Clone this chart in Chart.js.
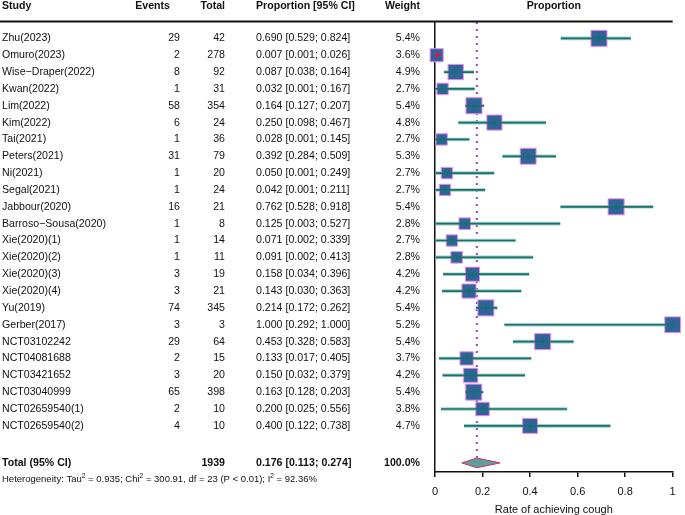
<!DOCTYPE html>
<html><head><meta charset="utf-8">
<script src="https://cdn.jsdelivr.net/npm/chart.js@4"></script>
<style>html,body{margin:0;padding:0;background:#fff}canvas{display:block}</style>
</head><body>
<canvas id="c" width="685" height="515"></canvas>
<script>
// ---------- data ----------
const studies = ['Zhu(2023)','Omuro(2023)','Wise\u2212Draper(2022)','Kwan(2022)','Lim(2022)','Kim(2022)','Tai(2021)','Peters(2021)','Ni(2021)','Segal(2021)','Jabbour(2020)','Barroso\u2212Sousa(2020)','Xie(2020)(1)','Xie(2020)(2)','Xie(2020)(3)','Xie(2020)(4)','Yu(2019)','Gerber(2017)','NCT03102242','NCT04081688','NCT03421652','NCT03040999','NCT02659540(1)','NCT02659540(2)'];
const events = [29,2,8,1,58,6,1,31,1,1,16,1,1,1,3,3,74,3,29,2,3,65,2,4];
const totals = [42,278,92,31,354,24,36,79,20,24,21,8,14,11,19,21,345,3,64,15,20,398,10,10];
const proportions = [0.690,0.007,0.087,0.032,0.164,0.250,0.028,0.392,0.050,0.042,0.762,0.125,0.071,0.091,0.158,0.143,0.214,1.000,0.453,0.133,0.150,0.163,0.200,0.400];
const ciLower = [0.529,0.001,0.038,0.001,0.127,0.098,0.001,0.284,0.001,0.001,0.528,0.003,0.002,0.002,0.034,0.030,0.172,0.292,0.328,0.017,0.032,0.128,0.025,0.122];
const ciUpper = [0.824,0.026,0.164,0.167,0.207,0.467,0.145,0.509,0.249,0.211,0.918,0.527,0.339,0.413,0.396,0.363,0.262,1.000,0.583,0.405,0.379,0.203,0.556,0.738];
const weights = [5.4,3.6,4.9,2.7,5.4,4.8,2.7,5.3,2.7,2.7,5.4,2.8,2.7,2.8,4.2,4.2,5.4,5.2,5.4,3.7,4.2,5.4,3.8,4.7];
const pooled = [0.176, 0.113, 0.274]; // estimate, lower, upper
const totalN = 1939;
const xTicks = [0, 0.2, 0.4, 0.6, 0.8, 1];
const headers = ['Study','Events','Total','Proportion [95% CI]','Weight','Proportion'];
const totalLabel = 'Total (95% CI)';
const hetParts = [['Heterogeneity: Tau',0],['2',1],[' = 0.935; Chi',0],['2',1],[' = 300.91, df = 23 (P < 0.01); I',0],['2',1],[' = 92.36%',0]];
const xTitle = 'Rate of achieving cough';

// ---------- layout / style ----------
const ROW_HEADER = -1.9, ROW_TOTAL = 25.2, ROW_HET = 26.2;
const Y_MIN = -0.97, Y_MAX = 25.74;
const FONT = '"Liberation Sans", Arial, Helvetica, sans-serif';
const BOX_FILL = '#2f6399', BOX_EDGE = '#ee88ee';
const CI_CORE = '#17706b', CI_HALO = 'rgba(150,200,196,0.9)', CI_IN = '#ee1144';
const fmt3 = v => v.toFixed(3);
const boxSide = w => 6.9 * Math.sqrt(w);
function ciInside(chart, i) {
  const xs = chart.scales.x;
  if (!xs) return false;
  return (xs.getPixelForValue(ciUpper[i]) - xs.getPixelForValue(ciLower[i])) < boxSide(weights[i]);
}

const datasets = [];
// reference line for pooled estimate
datasets.push({
  data: [{x: pooled[0], y: Y_MIN}, {x: pooled[0], y: ROW_TOTAL - 0.3}],
  borderColor: '#9a3fc8', borderWidth: 2, borderDash: [2, 5], pointRadius: 0, order: 10
});
// confidence intervals (halo under boxes, core above)
studies.forEach((s, i) => {
  const pts = [{x: ciLower[i], y: i}, {x: ciUpper[i], y: i}];
  datasets.push({data: pts, pointRadius: 0, borderWidth: 3.6,
    borderColor: ctx => ciInside(ctx.chart, i) ? 'rgba(0,0,0,0)' : CI_HALO, order: 9});
  datasets.push({data: pts, pointRadius: 0, borderWidth: 1.7,
    borderColor: ctx => ciInside(ctx.chart, i) ? CI_IN : CI_CORE, order: 5});
});
// study boxes
datasets.push({
  data: proportions.map((p, i) => ({x: p, y: i})),
  showLine: false, pointStyle: 'rect',
  pointRadius: ctx => boxSide(weights[ctx.dataIndex]) / (2 * Math.SQRT1_2),
  pointBackgroundColor: BOX_FILL, pointBorderColor: BOX_EDGE, pointBorderWidth: 1,
  clip: false, order: 8
});
// estimate tick marks
datasets.push({
  data: proportions.map((p, i) => ({x: p, y: i})),
  showLine: false, pointStyle: 'line', pointRotation: 90, pointRadius: 3.2,
  pointBorderWidth: 1.6,
  pointBorderColor: ctx => ciInside(ctx.chart, ctx.dataIndex) ? CI_IN : CI_CORE,
  clip: false, order: 4
});
// pooled diamond
datasets.push({
  data: [{x: pooled[1], y: ROW_TOTAL}, {x: pooled[0], y: ROW_TOTAL - 0.29}, {x: pooled[2], y: ROW_TOTAL},
         {x: pooled[0], y: ROW_TOTAL + 0.29}, {x: pooled[1], y: ROW_TOTAL}],
  fill: 'shape', backgroundColor: '#5f9f9b', borderColor: '#c8336b', borderWidth: 1,
  pointRadius: 0, order: 2
});

function drawSup(ctx, parts, x, y, size) {
  let cx = x;
  parts.forEach(([t, sup]) => {
    ctx.font = (sup ? size * 0.7 : size) + 'px ' + FONT;
    ctx.fillText(t, cx, sup ? y - size * 0.38 : y);
    cx += ctx.measureText(t).width;
  });
}

const tablePlugin = {
  id: 'table',
  afterDraw(chart) {
    const ctx = chart.ctx, ys = chart.scales.y, area = chart.chartArea;
    ctx.save();
    ctx.fillStyle = '#111';
    ctx.textBaseline = 'middle';
    const cols = {study: 2, events: 180, total: 225, ci: 256, weight: 420};
    // header
    const hy = ys.getPixelForValue(ROW_HEADER);
    ctx.font = 'bold 10.6px ' + FONT;
    ctx.textAlign = 'left'; ctx.fillText(headers[0], cols.study, hy);
    ctx.textAlign = 'right'; ctx.fillText(headers[1], 170, hy);
    ctx.fillText(headers[2], cols.total, hy);
    ctx.textAlign = 'left'; ctx.fillText(headers[3], cols.ci, hy);
    ctx.textAlign = 'right'; ctx.fillText(headers[4], cols.weight, hy);
    ctx.textAlign = 'center'; ctx.fillText(headers[5], (area.left + area.right) / 2, hy);
    // header rule
    ctx.strokeStyle = '#111'; ctx.lineWidth = 2;
    ctx.beginPath(); ctx.moveTo(0, area.top - 0.5); ctx.lineTo(area.right, area.top - 0.5); ctx.stroke();
    // rows
    ctx.font = '10.6px ' + FONT;
    studies.forEach((s, i) => {
      const y = ys.getPixelForValue(i);
      ctx.textAlign = 'left'; ctx.fillText(s, cols.study, y);
      ctx.textAlign = 'right'; ctx.fillText(String(events[i]), cols.events, y);
      ctx.fillText(String(totals[i]), cols.total, y);
      ctx.textAlign = 'left';
      ctx.fillText(fmt3(proportions[i]) + ' [' + fmt3(ciLower[i]) + '; ' + fmt3(ciUpper[i]) + ']', cols.ci, y);
      ctx.textAlign = 'right'; ctx.fillText(weights[i].toFixed(1) + '%', cols.weight, y);
    });
    // total
    const ty = ys.getPixelForValue(ROW_TOTAL);
    ctx.font = 'bold 10.6px ' + FONT;
    ctx.textAlign = 'left'; ctx.fillText(totalLabel, cols.study, ty);
    ctx.textAlign = 'right'; ctx.fillText(String(totalN), cols.total, ty);
    ctx.textAlign = 'left';
    ctx.fillText(fmt3(pooled[0]) + ' [' + fmt3(pooled[1]) + '; ' + fmt3(pooled[2]) + ']', cols.ci, ty);
    ctx.textAlign = 'right'; ctx.fillText('100.0%', cols.weight, ty);
    // heterogeneity
    ctx.textAlign = 'left';
    drawSup(ctx, hetParts, cols.study, ys.getPixelForValue(ROW_HET), 9.5);
    ctx.restore();
  }
};

new Chart(document.getElementById('c'), {
  type: 'line',
  data: {datasets},
  options: {
    responsive: false, animation: false, events: [], devicePixelRatio: 1,
    layout: {padding: {left: 435, right: 8, top: 22, bottom: 0}},
    plugins: {legend: {display: false}, tooltip: {enabled: false}},
    scales: {
      x: {
        type: 'linear', position: 'bottom', min: 0, max: 1,
        afterBuildTicks: s => { s.ticks = xTicks.map(v => ({value: v})); },
        afterFit: s => { s.height = 43; },
        ticks: {callback: v => String(v), color: '#111', padding: 8, font: {family: FONT, size: 11}},
        grid: {drawOnChartArea: false, drawTicks: true, tickLength: 5, color: '#111', lineWidth: 1.5},
        border: {display: true, color: '#111', width: 1.5},
        title: {display: true, text: xTitle, color: '#111', font: {family: FONT, size: 11}, padding: {top: 0, bottom: -2}}
      },
      y: {
        type: 'linear', reverse: true, min: Y_MIN, max: Y_MAX,
        afterFit: s => { s.width = 0; },
        ticks: {display: false},
        grid: {drawOnChartArea: false, drawTicks: false},
        border: {display: true, color: '#111', width: 1.5}
      }
    }
  },
  plugins: [tablePlugin]
});
</script>
</body></html>
